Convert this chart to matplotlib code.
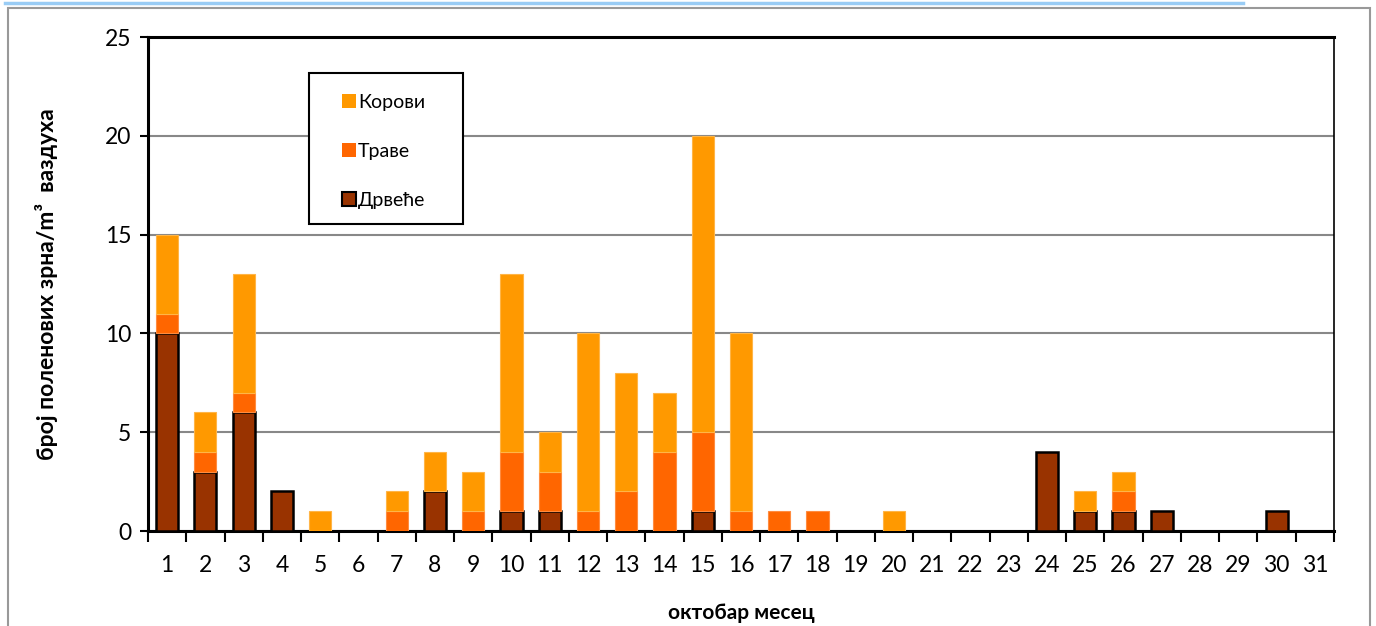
import matplotlib.pyplot as plt
from matplotlib.patches import Rectangle
from matplotlib.lines import Line2D
import numpy as np

plt.rcParams['font.family'] = ['Lato', 'DejaVu Sans']

days = [str(d) for d in range(1, 32)]
drvece = [10, 3, 6, 2, 0, 0, 0, 2, 0, 1, 1, 0, 0, 0, 1, 0, 0, 0, 0, 0, 0, 0, 0, 4, 1, 1, 1, 0, 0, 1, 0]
trave = [1, 1, 1, 0, 0, 0, 1, 0, 1, 3, 2, 1, 2, 4, 4, 1, 1, 1, 0, 0, 0, 0, 0, 0, 0, 1, 0, 0, 0, 0, 0]
korovi = [4, 2, 6, 0, 1, 0, 1, 2, 2, 9, 2, 9, 6, 3, 15, 9, 0, 0, 0, 1, 0, 0, 0, 0, 1, 1, 0, 0, 0, 0, 0]

c_drvece = '#993300'
c_trave = '#FF6600'
c_korovi = '#FF9900'

fig = plt.figure(figsize=(13.76, 6.26), dpi=100)
ax = fig.add_axes([148/1376, 95/626, 1186/1376, 494/626])

x = np.arange(len(days))
d = np.array(drvece)
t = np.array(trave)
k = np.array(korovi)
w = 0.58
# no edge for empty segments, otherwise zero bars show up as lines
ax.bar(x, d, w, color=c_drvece, edgecolor='black', linewidth=np.where(d > 0, 1.8, 0), zorder=3)
ax.bar(x, t, w, bottom=d, color=c_trave, edgecolor='#FF8C40', linewidth=np.where(t > 0, 0.8, 0), zorder=3)
ax.bar(x, k, w, bottom=d + t, color=c_korovi, edgecolor='#FFB547', linewidth=np.where(k > 0, 0.8, 0), zorder=3)

ax.set_xlim(-0.5, len(days) - 0.5)
ax.set_ylim(0, 25)
ax.set_yticks(range(0, 26, 5))
ax.tick_params(axis='y', labelsize=16.5, length=6, width=1.5, direction='out', pad=6)
ax.set_xticks(x)
ax.set_xticklabels(days)
ax.set_xticks(np.arange(-0.5, len(days), 1), minor=True)
ax.tick_params(axis='x', which='major', length=0, labelsize=16.5, pad=17)
ax.tick_params(axis='x', which='minor', length=8, width=1.5, direction='out')
ax.grid(axis='y', color='#888888', linewidth=1.5, zorder=0)
ax.set_axisbelow(True)

for s in ['left', 'bottom', 'top']:
    ax.spines[s].set_linewidth(2.2)
ax.spines['right'].set_linewidth(1.2)

ax.set_ylabel('број поленових зрна/m³  ваздуха', fontsize=16.5, fontweight='bold', labelpad=34)
ax.set_xlabel('октобар месец', fontsize=15, fontweight='bold', labelpad=20)

# legend box drawn separately so the entries can sit inside it like in Excel
ax.add_patch(Rectangle((0.1357, 0.6215), 0.1298, 0.3057, transform=ax.transAxes,
                       facecolor='white', edgecolor='black', linewidth=1.5, zorder=5))
handles = [Rectangle((0, 0), 1, 1, facecolor=c_korovi, edgecolor='none'),
           Rectangle((0, 0), 1, 1, facecolor=c_trave, edgecolor='none'),
           Rectangle((0, 0), 1, 1, facecolor=c_drvece, edgecolor='black', linewidth=1.5)]
leg = ax.legend(handles, ['Корови', 'Траве', 'Дрвеће'], loc='upper left',
                bbox_to_anchor=(0.1635, 0.885), frameon=False,
                fontsize=14, handlelength=0.7, handleheight=0.7, handletextpad=0.12,
                labelspacing=1.65, borderpad=0, borderaxespad=0)
leg.set_zorder(6)

# outer chart frame and top line
fig.add_artist(Rectangle((8/1376, -0.05), 1362/1376, 1.05 - 8/626, transform=fig.transFigure,
                         facecolor='none', edgecolor='#999999', linewidth=1.5))
fig.add_artist(Line2D([5/1376, 1243/1376], [1 - 3/626, 1 - 3/626], transform=fig.transFigure,
                      color='#99CCF5', linewidth=2.5))

fig.savefig('out.png', dpi=100)
